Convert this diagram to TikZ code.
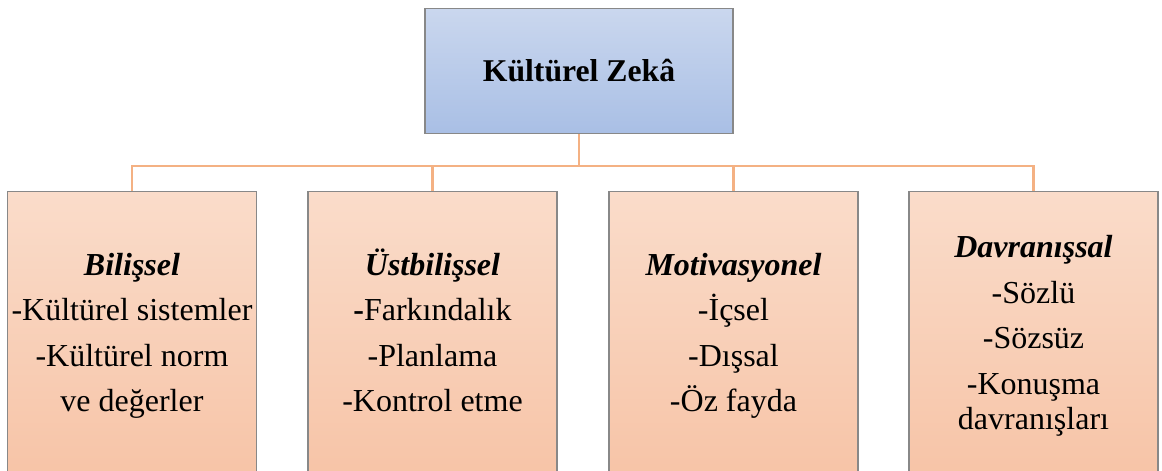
\documentclass[tikz,border=0pt]{standalone}
\usepackage{fontspec}
\setmainfont{Liberation Serif}
\definecolor{conn}{HTML}{F4B183}
\definecolor{bordergray}{HTML}{888888}
\definecolor{bluetop}{HTML}{CAD7EE}
\definecolor{bluebot}{HTML}{A9BFE5}
\definecolor{peachtop}{HTML}{FADCCA}
\definecolor{peachbot}{HTML}{F7C4A7}
\newcommand{\myhigh}{\vphantom{Üİ}}
\newcommand{\mydeep}{\vphantom{gş}}
\tikzset{
  topbox/.style={draw=bordergray, line width=1.3pt, top color=bluetop, bottom color=bluebot,
    minimum width=308pt, minimum height=125pt, inner sep=0pt,
    font=\fontsize{31.7}{36}\selectfont\bfseries},
  childbox/.style={draw=bordergray, line width=1.3pt, top color=peachtop, bottom color=peachbot,
    minimum width=249pt, minimum height=284pt, inner sep=0pt, align=center,
    font=\fontsize{32}{45.5}\selectfont},
  connector/.style={draw=conn, line width=2.6pt},
}
\begin{document}
\begin{tikzpicture}[x=1pt,y=-1pt]
\useasboundingbox (0,0) rectangle (1162,471);
\clip (0,0) rectangle (1162,471);
\node[topbox] (root) at (579,71) {Kültürel Zekâ};
\node[childbox] (c1) at (132,333.5) {\myhigh\textbf{\textit{Bilişsel}}\\-Kültürel sistemler\\-Kültürel norm\\ve değerler\mydeep};
\node[childbox] (c2) at (432.5,333.5) {\myhigh\textbf{\textit{Üstbilişsel}}\\{\bfseries -}Farkındalık\\-Planlama\\-Kontrol etme\mydeep};
\node[childbox] (c3) at (733.5,333.5) {\myhigh\textbf{\textit{Motivasyonel}}\\-İçsel\\-Dışsal\\-Öz fayda\mydeep};
\node[childbox] (c4) at (1033.5,333.5) {\myhigh\textbf{\textit{Davranışsal}}\\-Sözlü\\-Sözsüz\\-Konuşma\\[-10.5pt]davranışları\mydeep};
\coordinate (bus) at (579,166);
\draw[connector] (root.south) -- (bus);
\draw[connector] (c1.north) |- (bus) -| (c4.north);
\draw[connector] (c2.north) -- (c2.north |- bus);
\draw[connector] (c3.north) -- (c3.north |- bus);
\end{tikzpicture}
\end{document}
